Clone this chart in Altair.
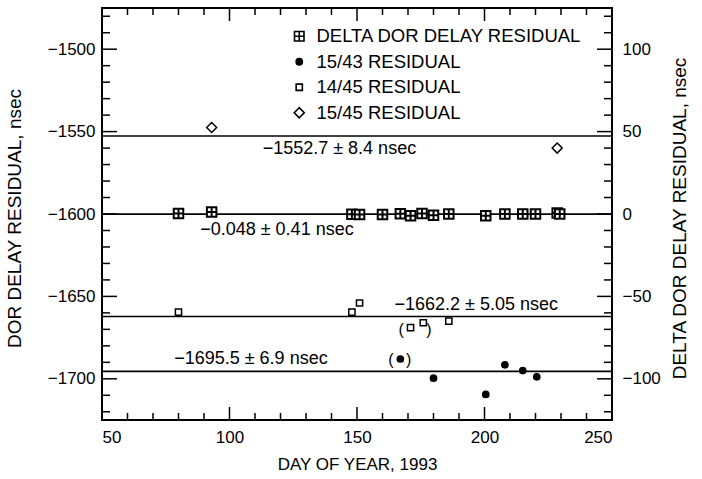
import altair as alt
import pandas as pd

FONT = "Liberation Sans"

# ---------------- data ----------------
series_names = ["DELTA DOR DELAY RESIDUAL", "15/43 RESIDUAL", "14/45 RESIDUAL", "15/45 RESIDUAL"]

# delta DOR residuals (right axis, nsec)
dor_days = [80, 93, 148, 151, 160, 167, 171, 175.5, 180, 186, 200.5, 208, 215, 220, 228.5, 229.5]
dor_vals = [0.3, 1.2, -0.2, -0.3, -0.3, 0.2, -1.0, 0.3, -0.8, 0.0, -1.0, 0.0, 0.0, 0.0, 0.6, 0.0]

# DOR residuals (left axis, nsec)
c1543_days = [167, 180, 200.5, 208, 215, 220.5]
c1543_vals = [-1688.0, -1699.6, -1709.5, -1691.5, -1695.0, -1698.8]

s1445_days = [80, 148, 151, 171, 176, 186]
s1445_vals = [-1659.5, -1659.5, -1654.0, -1669.0, -1666.0, -1665.0]

d1545_days = [93, 228.5]
d1545_vals = [-1547.5, -1560.0]

# mean lines
fit_left_vals = [-1552.7, -1662.2, -1695.5]
fit_right_vals = [-0.048]

# annotations
ann_left_text = ["\u22121552.7 \u00b1 8.4 nsec", "\u22121662.2 \u00b1 5.05 nsec", "\u22121695.5 \u00b1 6.9 nsec"]
ann_left_day = [113, 164.7, 78.3]
ann_left_val = [-1560.7, -1655.2, -1687.8]

ann_right_text = ["\u22120.048 \u00b1 0.41 nsec"]
ann_right_day = [88.5]
ann_right_val = [-10.0]

paren_text = ["(", ")", "(", ")"]
paren_day = [163.3, 170.3, 167.3, 178.2]
paren_val = [-1688.3, -1688.3, -1670.2, -1670.2]

# axis ranges and tick values
x_dom = [50.0, 250.0]
yl_dom = [-1725.0, -1475.0]
yr_dom = [-125.0, 125.0]
x_labels = [50, 100, 150, 200, 250]
x_major = [100.0, 150.0, 200.0]
x_minor = [60.0, 70.0, 80.0, 90.0, 110.0, 120.0, 130.0, 140.0, 160.0, 170.0, 180.0, 190.0,
           210.0, 220.0, 230.0, 240.0]
yl_labels = [-1700, -1650, -1600, -1550, -1500]
yl_major = [-1700.0, -1650.0, -1600.0, -1550.0, -1500.0]
yl_minor = [-1720.0, -1710.0, -1690.0, -1680.0, -1670.0, -1660.0, -1640.0, -1630.0, -1620.0,
            -1610.0, -1590.0, -1580.0, -1570.0, -1560.0, -1540.0, -1530.0, -1520.0, -1510.0,
            -1490.0, -1480.0]
yr_labels = [-100, -50, 0, 50, 100]
yr_major = [-100.0, -50.0, 0.0, 50.0, 100.0]
yr_minor = [-120.0, -110.0, -90.0, -80.0, -70.0, -60.0, -40.0, -30.0, -20.0, -10.0, 10.0, 20.0,
            30.0, 40.0, 60.0, 70.0, 80.0, 90.0, 110.0, 120.0]

# ---------------- frames ----------------
left_pts = pd.DataFrame({
    "day": c1543_days + s1445_days + d1545_days,
    "v": c1543_vals + s1445_vals + d1545_vals,
    "series": [series_names[1]] * len(c1543_days) + [series_names[2]] * len(s1445_days)
              + [series_names[3]] * len(d1545_days),
})
right_pts = pd.DataFrame({"day": dor_days, "v": dor_vals, "series": [series_names[0]] * len(dor_days)})

W, H = 510, 412
FS = 17

x_scale = alt.Scale(domain=x_dom, nice=False, zero=False)
yl_scale = alt.Scale(domain=yl_dom, nice=False, zero=False)
yr_scale = alt.Scale(domain=yr_dom, nice=False, zero=False)

x_axis = alt.Axis(values=x_labels, ticks=False, domain=False, grid=False, labelFlush=True,
                  labelFontSize=FS, labelPadding=9, title="DAY OF YEAR, 1993", format="d",
                  titleFontSize=FS, titleFontWeight="normal", titlePadding=11,
                  labelColor="black", titleColor="black")
yl_axis = alt.Axis(orient="left", values=yl_labels, ticks=False, domain=False, grid=False,
                   format="d", labelFontSize=FS, labelPadding=7,
                   title="DOR DELAY RESIDUAL, nsec",
                   titleFontSize=19, titleFontWeight="normal", titleX=-88, titleY=210,
                   titleAlign="center", titleBaseline="middle", titleAngle=270,
                   labelColor="black", titleColor="black")
yr_axis = alt.Axis(orient="right", values=yr_labels, ticks=False, domain=False, grid=False,
                   format="d", labelFontSize=FS, labelPadding=10,
                   title="DELTA DOR DELAY RESIDUAL, nsec",
                   titleFontSize=19, titleFontWeight="normal", titleX=67, titleY=210,
                   titleAlign="center", titleBaseline="middle", titleAngle=270,
                   labelColor="black", titleColor="black")


def X(f):
    return alt.X(f"{f}:Q", scale=x_scale, axis=x_axis)


def YL(f):
    return alt.Y(f"{f}:Q", scale=yl_scale, axis=yl_axis)


def YR(f):
    return alt.Y(f"{f}:Q", scale=yr_scale, axis=yr_axis)


legend = alt.Legend(orient="none", legendX=188, legendY=19, title=None, labelFontSize=18.5,
                    labelFont=FONT, labelColor="black", rowPadding=6.5, labelOffset=8, padding=0,
                    labelLimit=0, symbolStrokeWidth=1.6, symbolSize=100)

# symbol outlines (drawn at size 100 -> 5 px per path unit)
shape_scale = alt.Scale(domain=series_names, range=[
    "M-0.95,-0.95H0.95V0.95H-0.95Z M0,-0.95V0.95 M-0.95,0H0.95",
    "M0.62,0A0.62,0.62,0,1,1,-0.62,0A0.62,0.62,0,1,1,0.62,0Z",
    "M-0.62,-0.62H0.62V0.62H-0.62Z",
    "M-1.0,0L0,-1.0L1.0,0L0,1.0Z",
])
fill_scale = alt.Scale(domain=series_names, range=["white", "black", "white", "white"])
stroke_scale = alt.Scale(domain=series_names, range=["black", "black", "black", "black"])


def enc_series():
    return dict(
        shape=alt.Shape("series:N", scale=shape_scale, legend=legend),
        fill=alt.Fill("series:N", scale=fill_scale, legend=legend),
        stroke=alt.Stroke("series:N", scale=stroke_scale, legend=legend),
    )


def tick_pts(df, shape, length, xenc, yenc):
    # inward tick drawn as an open path symbol; path unit = sqrt(size)/2 px
    return (alt.Chart(df)
            .mark_point(shape=shape, size=(2 * length) ** 2, filled=False, stroke="black",
                        strokeWidth=1.5, opacity=1)
            .encode(x=xenc, y=yenc))


# ---------------- left group ----------------
left_layers = []

left_layers.append(alt.Chart(pd.DataFrame({"v": fit_left_vals})).mark_rule(
    color="black", strokeWidth=1.6).encode(y=YL("v")))

for vals, ln in ((yl_major, 15), (yl_minor, 8)):
    df = pd.DataFrame({"v": vals, "xb": [x_dom[0]] * len(vals)})
    left_layers.append(tick_pts(df, "M0,0H1", ln, X("xb"), YL("v")))

for vals, ln in ((x_major, 13), (x_minor, 7)):
    df = pd.DataFrame({"day": vals, "yb": [yl_dom[0]] * len(vals), "yt": [yl_dom[1]] * len(vals)})
    left_layers.append(tick_pts(df, "M0,0V-1", ln, X("day"), YL("yb")))
    left_layers.append(tick_pts(df, "M0,0V1", ln, X("day"), YL("yt")))

left_layers.append(alt.Chart(left_pts).mark_point(filled=True, strokeWidth=1.5, opacity=1, size=100)
                   .encode(x=X("day"), y=YL("v"), **enc_series()))

left_layers.append(alt.Chart(pd.DataFrame({"t": ann_left_text, "day": ann_left_day, "v": ann_left_val}))
                   .mark_text(align="left", baseline="middle", fontSize=18, font=FONT, color="black")
                   .encode(x=X("day"), y=YL("v"), text="t:N"))

left_layers.append(alt.Chart(pd.DataFrame({"t": paren_text, "day": paren_day, "v": paren_val}))
                   .mark_text(align="center", baseline="middle", fontSize=16, font=FONT, color="black")
                   .encode(x=X("day"), y=YL("v"), text="t:N"))

left_group = alt.layer(*left_layers)

# ---------------- right group ----------------
right_layers = []

right_layers.append(alt.Chart(pd.DataFrame({"v": fit_right_vals})).mark_rule(
    color="black", strokeWidth=1.6).encode(y=YR("v")))

for vals, ln in ((yr_major, 15), (yr_minor, 8)):
    df = pd.DataFrame({"v": vals, "xb": [x_dom[1]] * len(vals)})
    right_layers.append(tick_pts(df, "M0,0H-1", ln, X("xb"), YR("v")))

right_layers.append(alt.Chart(right_pts).mark_point(filled=True, strokeWidth=2.0, opacity=1, size=100)
                    .encode(x=X("day"), y=YR("v"), **enc_series()))

right_layers.append(alt.Chart(pd.DataFrame({"t": ann_right_text, "day": ann_right_day, "v": ann_right_val}))
                    .mark_text(align="left", baseline="middle", fontSize=18, font=FONT, color="black")
                    .encode(x=X("day"), y=YR("v"), text="t:N"))

right_group = alt.layer(*right_layers)

chart = (
    alt.layer(left_group, right_group)
    .resolve_scale(y="independent")
    .properties(width=W, height=H, autosize=alt.AutoSizeParams(type="none"),
                padding={"left": 102, "top": 8, "right": 90, "bottom": 59}, background="white")
    .configure(font=FONT)
    .configure_view(stroke="black", strokeWidth=2)
)

chart.save("out.html", embed_options={"renderer": "svg", "actions": False})
